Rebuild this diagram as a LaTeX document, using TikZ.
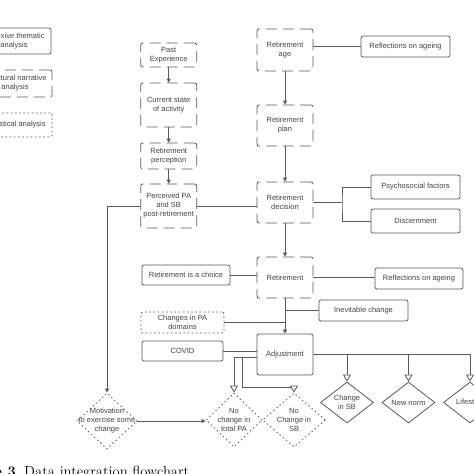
\documentclass[tikz,border=0pt]{standalone}
\usepackage{fontspec}
\newfontfamily\diafont{Liberation Sans}
\usetikzlibrary{shapes.geometric,arrows.meta}
\definecolor{linec}{HTML}{5A5A5A}
\definecolor{txtc}{HTML}{444444}
\begin{document}
\begin{tikzpicture}[x=1pt,y=-1pt,
 lbl/.style={font=\diafont\fontsize{7.5}{9}\selectfont, text=txtc, align=center},
 boxbase/.style={lbl, draw=linec, line width=0.8pt, inner sep=0pt, rounded corners=2pt},
 solidbox/.style={boxbase},
 dashbox/.style={boxbase, dash pattern=on 11pt off 6pt},
 dotbox/.style={boxbase, dash pattern=on 1.2pt off 3pt, line cap=round},
 dia/.style={shape=diamond, draw=linec, line width=0.8pt, inner sep=0pt},
 soliddia/.style={dia},
 dotdia/.style={dia, dash pattern=on 1.2pt off 3pt, line cap=round},
 conn/.style={draw=linec, line width=0.8pt},
 arr/.style={conn, -{Triangle[width=4pt,length=4pt]}},
 oarr/.style={conn, -{Triangle[open,width=8pt,length=7pt,fill=white]}},
 caption/.style={font=\fontsize{14.6}{16}\selectfont, inner sep=0pt}
]
\useasboundingbox (0,0) rectangle (474,474);
\clip (0,0) rectangle (474,474);
\fill[white] (0,0) rectangle (474,474);

% legend
\node[solidbox, minimum width=74pt, minimum height=26pt] (leg1) at (14,41) {Reflexive thematic\\analysis};
\node[dashbox, minimum width=74pt, minimum height=27pt] (leg2) at (15,83.5) {Structural narrative\\analysis};
\node[dotbox, minimum width=74pt, minimum height=24pt] (leg3) at (15,125) {Statistical analysis};

% column A
\node[dashbox, minimum width=56pt, minimum height=24pt] (past) at (168.7,55) {Past\\Experience};
\node[dashbox, minimum width=56pt, minimum height=44pt] (current) at (168.7,105) {Current state\\of activity};
\node[dashbox, minimum width=56pt, minimum height=26pt] (perception) at (168.7,156) {Retirement\\perception};
\node[dashbox, minimum width=56pt, minimum height=44pt] (perceived) at (168.7,206) {Perceived PA\\and SB\\post-retirement};

% column B
\node[dashbox, minimum width=56pt, minimum height=42pt] (age) at (285,50) {Retirement\\age};
\node[dashbox, minimum width=56pt, minimum height=41pt] (plan) at (285,125.5) {Retirement\\plan};
\node[dashbox, minimum width=56pt, minimum height=41pt] (decision) at (285,202.5) {Retirement\\decision};
\node[dashbox, minimum width=56pt, minimum height=41pt] (retire) at (285,277.5) {Retirement};
\node[solidbox, minimum width=56pt, minimum height=41pt] (adjust) at (285,354.5) {Adjustment};

% side boxes
\node[solidbox, minimum width=89pt, minimum height=21pt] (refl1) at (405.5,46.5) {Reflections on ageing};
\node[solidbox, minimum width=89pt, minimum height=24pt] (psycho) at (415.5,187) {Psychosocial factors};
\node[solidbox, minimum width=89pt, minimum height=24pt] (discern) at (415.5,221) {Discernment};
\node[solidbox, minimum width=88pt, minimum height=21pt] (refl2) at (419,278.5) {Reflections on ageing};
\node[solidbox, minimum width=89pt, minimum height=21pt] (inevitable) at (363.5,310.5) {Inevitable change};
\node[solidbox, minimum width=88pt, minimum height=20pt] (choice) at (186,275) {Retirement is a choice};
\node[dotbox, minimum width=83pt, minimum height=21pt] (changesPA) at (182.5,322.5) {Changes in PA\\domains};
\node[solidbox, minimum width=81pt, minimum height=20pt] (covid) at (182.5,351) {COVID};

% diamonds
\node[dotdia, minimum width=60pt, minimum height=56pt, label={[lbl]center:{Motivation\\to exercise some\\change}}] (motiv) at (107,421) {};
\node[dotdia, minimum width=56pt, minimum height=54pt, label={[lbl]center:{No\\change in\\total PA}}] (nochPA) at (234,420) {};
\node[dotdia, minimum width=63pt, minimum height=54pt, label={[lbl]center:{No\\Change in\\SB}}] (nochSB) at (294,420) {};
\node[soliddia, minimum width=53pt, minimum height=41pt, label={[lbl]center:{Change\\in SB}}] (changeSB) at (347,402.5) {};
\node[soliddia, minimum width=53pt, minimum height=41pt, label={[lbl]center:{New norm}}] (newnorm) at (408.5,402.5) {};
\node[soliddia, minimum width=53pt, minimum height=41pt, label={[lbl]center:{Lifestyle}}] (lifestyle) at (470,402.5) {};

% connectors column A
\draw[arr] (past.south) -- (current.north);
\draw[arr] (current.south) -- (perception.north);
\draw[arr] (perception.south) -- (perceived.north);
\draw[arr] (perceived.west) -| (motiv.north);
\draw[conn] (perceived.east) -- (perceived.east -| decision.west);
\draw[arr] (motiv.east) -- (motiv.east -| nochPA.west);

% connectors column B
\draw[arr] (age.south) -- (plan.north);
\draw[arr] (plan.south) -- (decision.north);
\draw[arr] (decision.south) -- (retire.north);
\draw[arr] (retire.south) -- (adjust.north);
\draw[conn] (age.east |- refl1.west) -- (refl1.west);
\coordinate (dsplit) at (342,202.5);
\draw[conn] (decision.east) -- (dsplit);
\draw[conn] (psycho.west) -| (dsplit) |- (discern.west);
\draw[conn] (choice.east) -- (choice.east -| retire.west);
\draw[conn] (retire.east) -- (retire.east -| refl2.west);
\draw[conn] (inevitable.west) -- (inevitable.west -| retire.south);
\draw[conn] (changesPA.east) -- (changesPA.east -| retire.south);
\draw[conn] (covid.east) -- (covid.east -| adjust.west);

% outcomes
\draw[oarr] (adjust.east) -| (lifestyle.north);
\draw[oarr] (adjust.east -| changeSB.north) -- (changeSB.north);
\draw[oarr] (adjust.east -| newnorm.north) -- (newnorm.north);
\coordinate (aL) at ([yshift=-2.5pt]adjust.west);
\draw[oarr] (aL) -| (nochPA.north);
\path (aL) ++(-14,0) coordinate (bsplit);
\path (bsplit) ++(0,30) coordinate (bbend);
\draw[oarr] (bsplit) -- (bbend) -| (nochSB.north);

% caption
\node[caption, font=\fontsize{14.6}{16}\selectfont\bfseries, anchor=base east] (figlab) at (20.5,476) {Figure 3.};
\node[caption, anchor=base west] (captxt) at (24,476) {Data integration flowchart};
\end{tikzpicture}
\end{document}
